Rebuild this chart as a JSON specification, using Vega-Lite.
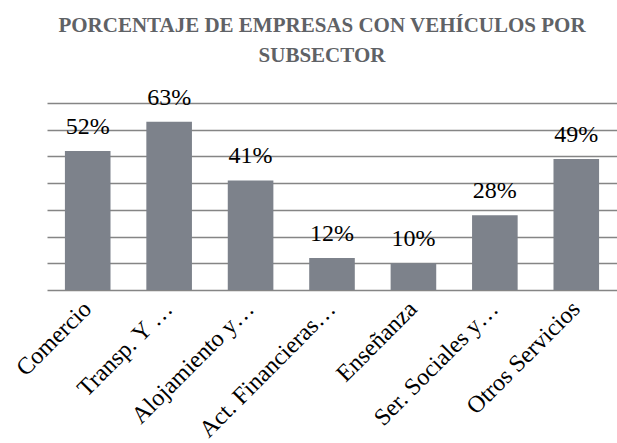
{
  "$schema": "https://vega.github.io/schema/vega-lite/v6.json",
  "width": 570,
  "height": 187,
  "autosize": {"type": "none"},
  "padding": {"left": 47, "top": 103, "right": 0, "bottom": 153},
  "background": "white",
  "title": {
    "text": ["PORCENTAJE DE EMPRESAS CON VEHÍCULOS POR", "SUBSECTOR"],
    "font": "Liberation Serif",
    "fontSize": 21,
    "fontWeight": "bold",
    "color": "#5f6266",
    "anchor": "middle",
    "frame": "group",
    "dx": -10,
    "offset": 20,
    "lineHeight": 30
  },
  "data": {
    "values": [
      {"subsector": "Comercio", "pct": 0.52},
      {"subsector": "Transp. Y …", "pct": 0.63},
      {"subsector": "Alojamiento y…", "pct": 0.41},
      {"subsector": "Act. Financieras…", "pct": 0.12},
      {"subsector": "Enseñanza", "pct": 0.10},
      {"subsector": "Ser. Sociales y…", "pct": 0.28},
      {"subsector": "Otros Servicios", "pct": 0.49}
    ]
  },
  "encoding": {
    "x": {
      "field": "subsector",
      "type": "nominal",
      "sort": null,
      "scale": {"paddingInner": 0.44, "paddingOuter": 0.22},
      "axis": {
        "title": null,
        "labelAngle": -45,
        "labelAlign": "right",
        "labelBaseline": "middle",
        "labelFont": "Liberation Serif",
        "labelFontSize": 24,
        "labelColor": "#000000",
        "labelPadding": 15,
        "ticks": false,
        "domain": false,
        "labelLimit": 300
      }
    },
    "y": {
      "field": "pct",
      "type": "quantitative",
      "scale": {"domain": [0, 0.7], "nice": false},
      "axis": {
        "title": null,
        "labels": false,
        "ticks": false,
        "domain": false,
        "values": [0, 0.1, 0.2, 0.3, 0.4, 0.5, 0.6, 0.7],
        "gridColor": "#858585",
        "gridWidth": 1.6,
        "gridOpacity": 1
      }
    }
  },
  "layer": [
    {"mark": {"type": "bar", "color": "#7d828b"}},
    {
      "mark": {
        "type": "text",
        "font": "Liberation Serif",
        "fontSize": 24,
        "color": "#000000",
        "baseline": "alphabetic",
        "dy": -17
      },
      "encoding": {"text": {"field": "pct", "type": "quantitative", "format": ".0%"}}
    }
  ],
  "config": {"view": {"stroke": null}}
}
